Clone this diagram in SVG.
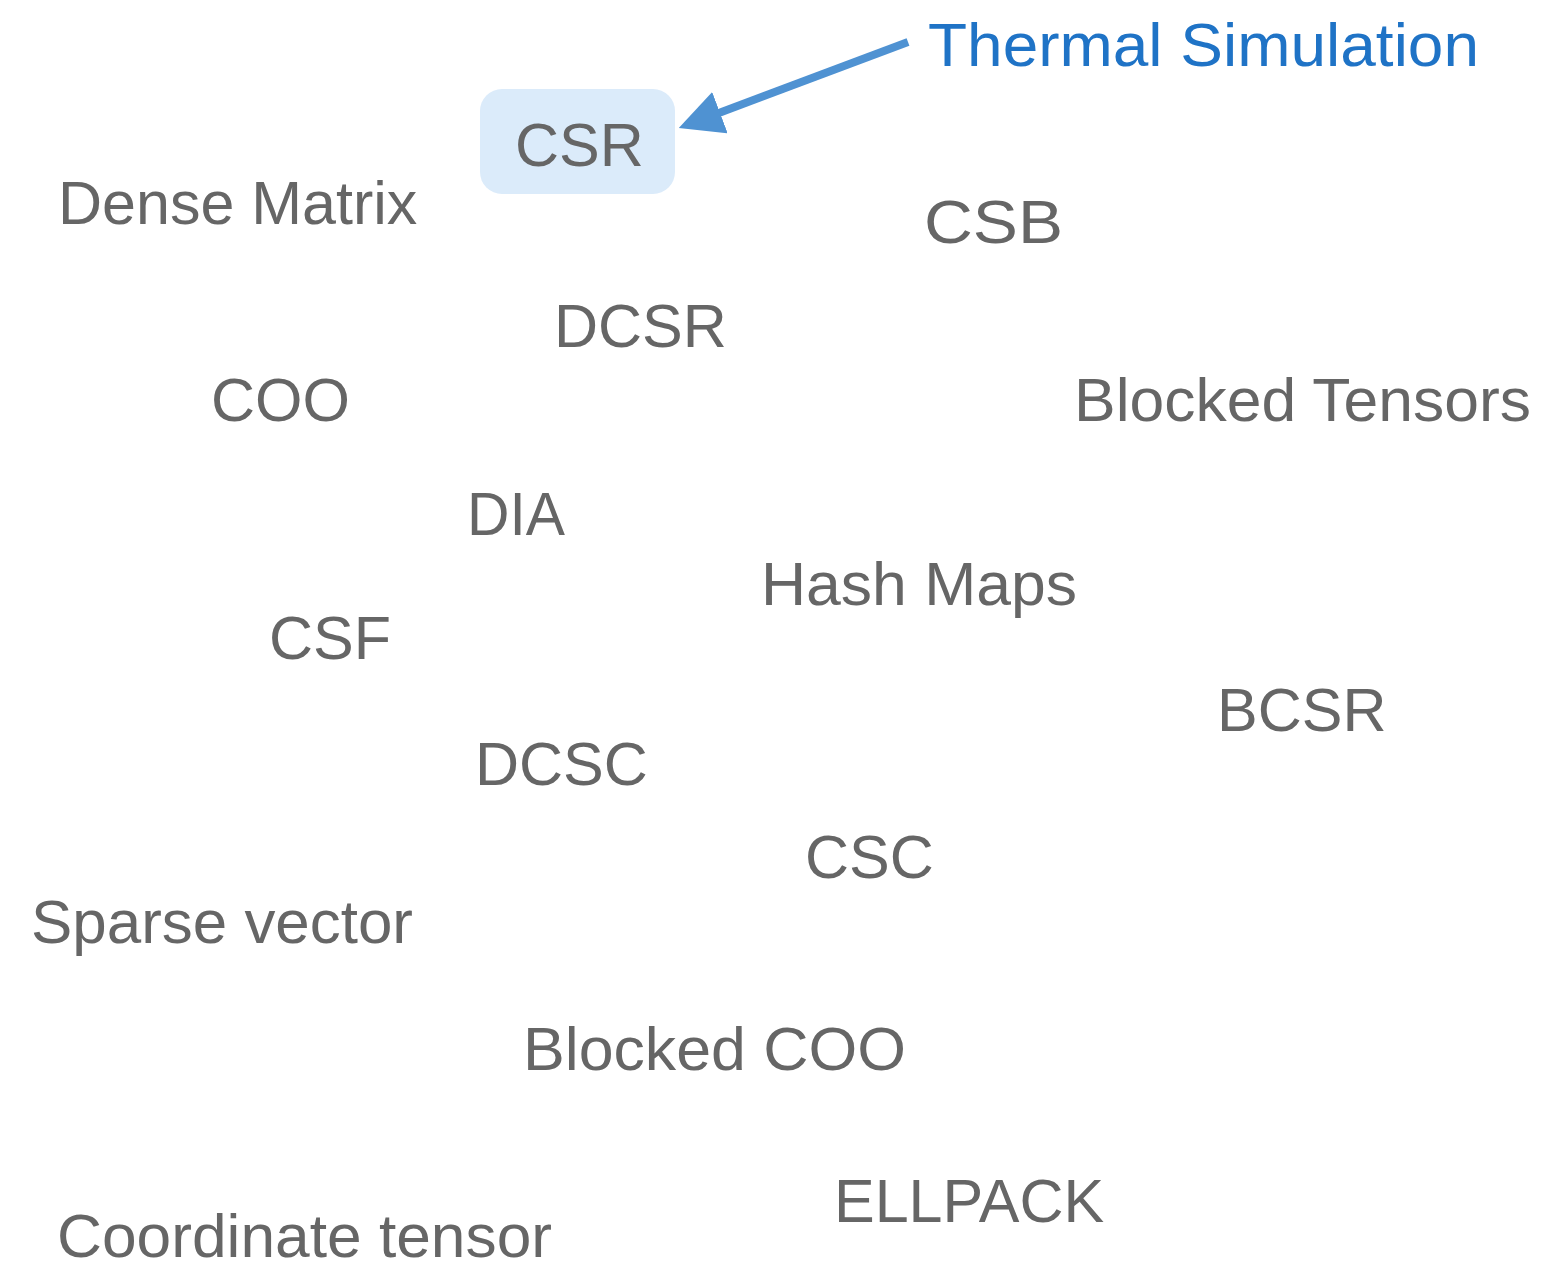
<svg xmlns="http://www.w3.org/2000/svg" width="1547" height="1267" viewBox="0 0 1547 1267">
<style>
.n{font-family:"Liberation Sans",Arial,sans-serif;font-size:61px;fill:#666666}
.t{font-family:"Liberation Sans",Arial,sans-serif;font-size:62px;fill:#1f73c6}
</style>
<defs>
<marker id="ah" viewBox="0 0 10 10" refX="8" refY="5" markerWidth="5.5" markerHeight="5.5" orient="auto" markerUnits="strokeWidth">
<path d="M0,0 L10,5 L0,10 z" fill="#4f92d2"/>
</marker>
</defs>
<rect width="1547" height="1267" fill="#ffffff"/>
<g id="connectors">
<line x1="908" y1="42" x2="687" y2="125" stroke="#4f92d2" stroke-width="8" marker-end="url(#ah)"/>
</g>
<g id="thermal"><text class="t" x="928" y="66" textLength="551" lengthAdjust="spacingAndGlyphs">Thermal Simulation</text></g>
<g id="csr"><rect x="480" y="89" width="195" height="105" rx="22" fill="#dbebfa"/><text class="n" x="515" y="166">CSR</text></g>
<g id="dense"><text class="n" x="58" y="224">Dense Matrix</text></g>
<g id="csb"><text class="n" x="924" y="243" textLength="139" lengthAdjust="spacingAndGlyphs">CSB</text></g>
<g id="dcsr"><text class="n" x="554" y="347">DCSR</text></g>
<g id="coo"><text class="n" x="211" y="421">COO</text></g>
<g id="blockedtensors"><text class="n" x="1074" y="421" textLength="457" lengthAdjust="spacingAndGlyphs">Blocked Tensors</text></g>
<g id="dia"><text class="n" x="467" y="535" textLength="98" lengthAdjust="spacingAndGlyphs">DIA</text></g>
<g id="hashmaps"><text class="n" x="761" y="605" textLength="316" lengthAdjust="spacingAndGlyphs">Hash Maps</text></g>
<g id="csf"><text class="n" x="269" y="659">CSF</text></g>
<g id="bcsr"><text class="n" x="1217" y="731">BCSR</text></g>
<g id="dcsc"><text class="n" x="475" y="785">DCSC</text></g>
<g id="csc"><text class="n" x="805" y="878">CSC</text></g>
<g id="sparsevector"><text class="n" x="31" y="943" textLength="382" lengthAdjust="spacingAndGlyphs">Sparse vector</text></g>
<g id="blockedcoo"><text class="n" x="523" y="1070" textLength="383" lengthAdjust="spacingAndGlyphs">Blocked COO</text></g>
<g id="ellpack"><text class="n" x="834" y="1222">ELLPACK</text></g>
<g id="coordtensor"><text class="n" x="57" y="1257" textLength="495" lengthAdjust="spacingAndGlyphs">Coordinate tensor</text></g>
</svg>
